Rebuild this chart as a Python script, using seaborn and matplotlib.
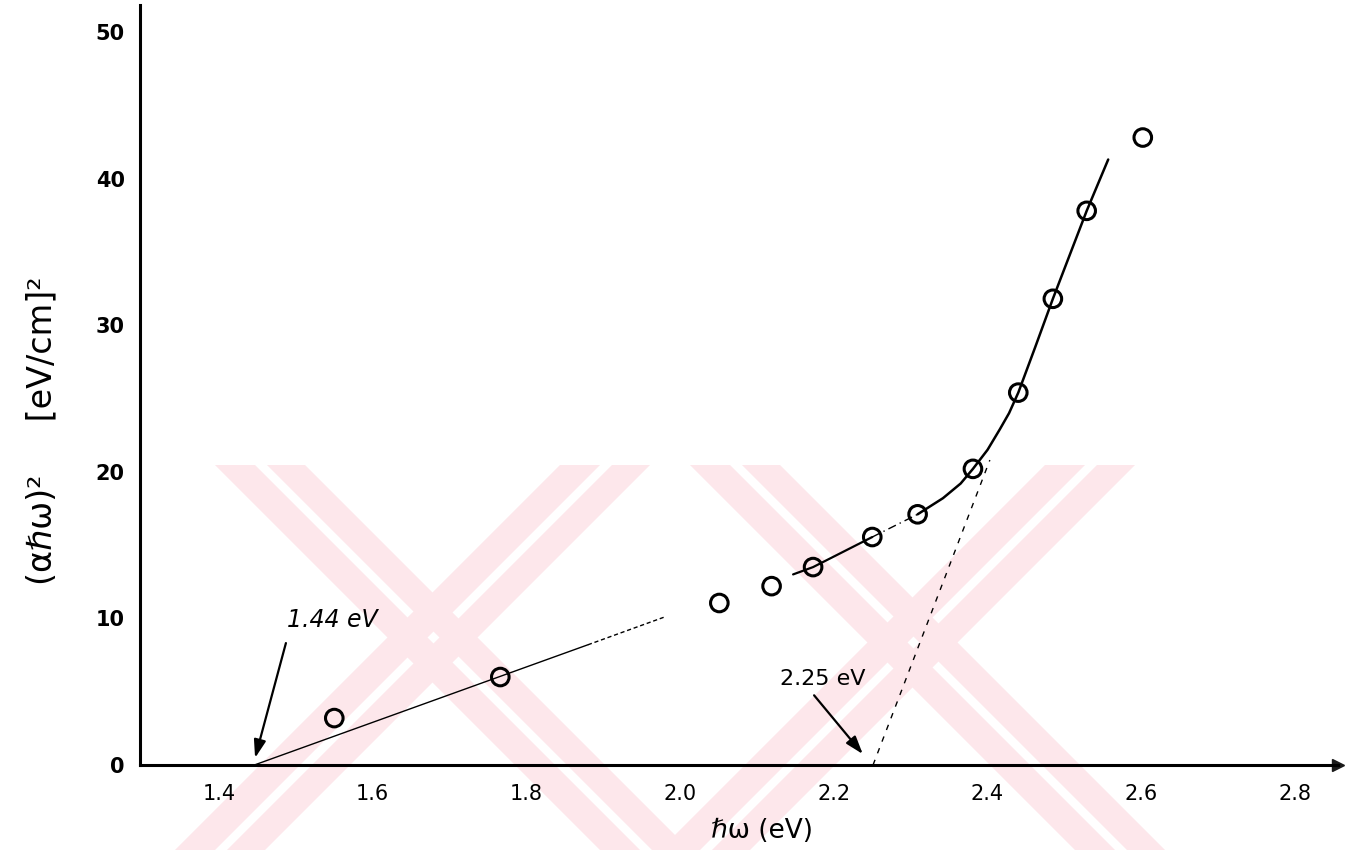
import matplotlib
matplotlib.use("Agg")
import matplotlib.pyplot as plt
import seaborn as sns
import pandas as pd
from matplotlib.patches import Polygon

# ---- data ----
photon_energy = [1.550, 1.766, 2.051, 2.119, 2.173, 2.250, 2.309, 2.381, 2.440, 2.485, 2.529, 2.602]
alpha_hw_sq = [3.2, 6.0, 11.05, 12.2, 13.5, 15.55, 17.1, 20.2, 25.4, 31.8, 37.8, 42.8]

low_fit_x = [1.446, 1.880]
low_fit_y = [0.0, 8.2]
low_fit_tail_x = [1.880, 1.980]
low_fit_tail_y = [8.2, 10.1]

curve_low_x = [2.147, 2.173, 2.250]
curve_low_y = [13.0, 13.5, 15.55]
curve_mid_x = [2.250, 2.309]
curve_mid_y = [15.55, 17.1]
curve_up_x = [2.309, 2.342, 2.365, 2.381, 2.400, 2.416, 2.428, 2.440, 2.462, 2.485, 2.507, 2.529, 2.557]
curve_up_y = [17.1, 18.2, 19.2, 20.2, 21.5, 22.9, 24.0, 25.4, 28.5, 31.8, 34.8, 37.8, 41.3]

tangent_x = [2.251, 2.403]
tangent_y = [0.0, 20.8]

x_ticks = [1.4, 1.6, 1.8, 2.0, 2.2, 2.4, 2.6, 2.8]
x_tick_labels = ["1.4", "1.6", "1.8", "2.0", "2.2", "2.4", "2.6", "2.8"]
y_ticks = [0, 10, 20, 30, 40, 50]
y_tick_labels = ["0", "10", "20", "30", "40", "50"]

points = pd.DataFrame({"E": photon_energy, "A": alpha_hw_sq})

sns.set_theme(style="white")
plt.rcParams["font.family"] = ["DejaVu Sans"]

W, H = 1362, 850
fig = plt.figure(figsize=(W / 100, H / 100), dpi=100)
ax = fig.add_axes([140 / W, 1 - 765 / H, (1338 - 140) / W, 760 / H])
ax.patch.set_visible(False)

# ---- watermark (pale pink crossed double bands) ----
def band(x_top, width, direction, y_top=465):
    dy = 850 - y_top
    pts = [(x_top, y_top), (x_top + width, y_top),
           (x_top + width + direction * dy, 850), (x_top + direction * dy, 850)]
    return [(px / W, 1 - py / H) for px, py in pts]

pink = "#fde7eb"
for xt, d in [(215, 1), (650, -1), (690, 1), (1135, -1)]:
    for off, wdt in [(0, 40), (52, 38)]:
        x0 = xt + off if d == 1 else xt - 90 + off
        fig.add_artist(Polygon(band(x0, wdt, d), closed=True, facecolor=pink,
                               edgecolor="none", transform=fig.transFigure, zorder=-5))

# ---- fitted lines ----
sns.lineplot(x=low_fit_x, y=low_fit_y, ax=ax, color="black", lw=1.0,
             estimator=None, sort=False)
sns.lineplot(x=low_fit_tail_x, y=low_fit_tail_y, ax=ax, color="black", lw=1.0,
             estimator=None, sort=False, linestyle=(0, (3, 2)))
sns.lineplot(x=curve_low_x, y=curve_low_y, ax=ax, color="black", lw=1.6,
             estimator=None, sort=False)
sns.lineplot(x=curve_mid_x, y=curve_mid_y, ax=ax, color="black", lw=1.0,
             estimator=None, sort=False, linestyle=(0, (6, 3, 1, 3)))
sns.lineplot(x=curve_up_x, y=curve_up_y, ax=ax, color="black", lw=1.8,
             estimator=None, sort=False)
sns.lineplot(x=tangent_x, y=tangent_y, ax=ax, color="black", lw=1.0,
             estimator=None, sort=False, linestyle=(0, (4, 5)))

# ---- data points ----
sns.scatterplot(data=points, x="E", y="A", ax=ax, marker="o", s=160,
                facecolor="none", edgecolor="black", linewidth=2.2, zorder=5)

# ---- axes ----
ax.set_xlim(1.2972, 2.856)
ax.set_ylim(0, 51.84)
for s in ["top", "right"]:
    ax.spines[s].set_visible(False)
for s in ["left", "bottom"]:
    ax.spines[s].set_linewidth(2.2)
    ax.spines[s].set_color("black")
ax.plot(1, 0, ">k", transform=ax.get_yaxis_transform(), clip_on=False, ms=9)
ax.plot(0, 1, "^k", transform=ax.get_xaxis_transform(), clip_on=False, ms=6)

ax.set_xticks(x_ticks)
ax.set_xticklabels(x_tick_labels)
ax.set_yticks(y_ticks)
ax.set_yticklabels(y_tick_labels, fontweight="bold")
ax.tick_params(axis="x", direction="in", length=6, width=2, pad=14,
               labelsize=15, colors="black")
ax.tick_params(axis="y", direction="in", length=6, width=2, pad=11,
               labelsize=15, colors="black")

ax.set_xlabel("ℏω (eV)", fontsize=19, color="black")
ax.xaxis.set_label_coords((762 - 140) / (1338 - 140), -(818 - 765) / 760)
ax.set_ylabel("(αℏω)²     [eV/cm]²", fontsize=24, color="black")
ax.yaxis.set_label_coords(-(140 - 58) / (1338 - 140), (765 - 431) / 760)

# ---- annotations ----
ax.annotate("", xy=(1.446, 0.3), xytext=(1.488, 8.5),
            arrowprops=dict(arrowstyle="-|>,head_length=0.9,head_width=0.3",
                            color="black", lw=1.6))
ax.text(1.489, 9.9, "1.44 eV", fontsize=17, style="italic", va="center",
        ha="left", color="black")
ax.annotate("", xy=(2.240, 0.6), xytext=(2.172, 4.9),
            arrowprops=dict(arrowstyle="-|>,head_length=0.9,head_width=0.3",
                            color="black", lw=1.6))
ax.text(2.130, 5.9, "2.25 eV", fontsize=16, va="center", ha="left",
        color="black")

fig.savefig("out.png", dpi=100)
